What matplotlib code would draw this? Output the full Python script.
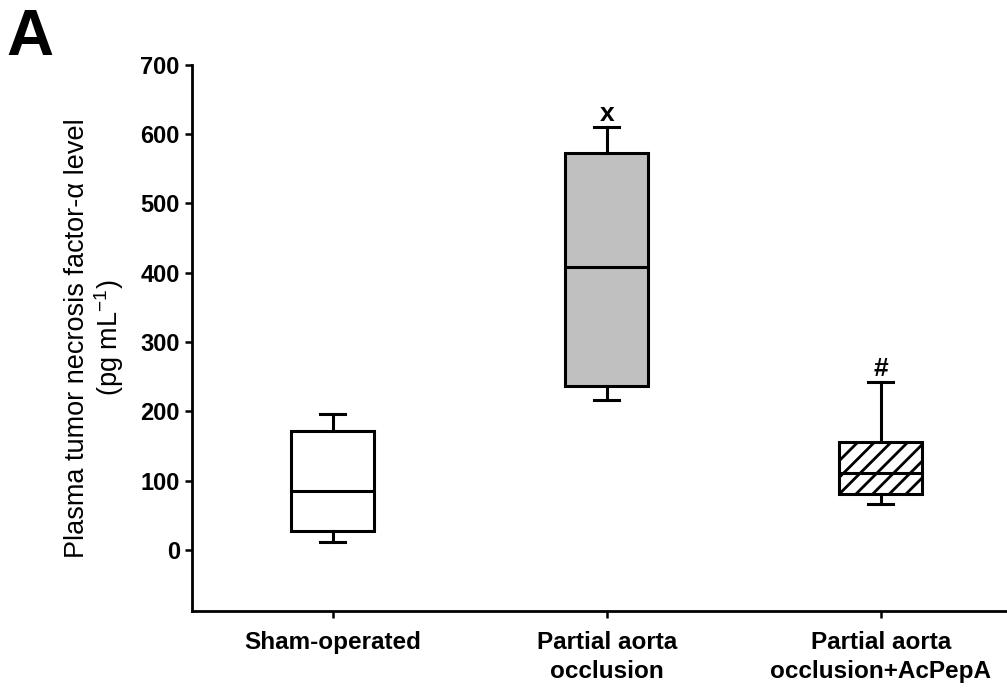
import numpy as np
import matplotlib.pyplot as plt

plt.rcParams['font.family'] = ['Liberation Sans', 'DejaVu Sans']
plt.rcParams['mathtext.default'] = 'regular'
plt.rcParams['hatch.linewidth'] = 2.0

# Datos (pg mL^-1)
grupos = ['Sham-operated', 'Partial aorta\nocclusion', 'Partial aorta\nocclusion+AcPepA']
bigote_inf = [11, 217, 66]
q1 = [27, 237, 81]
mediana = [85, 408, 111]
q3 = [172, 573, 156]
bigote_sup = [197, 610, 242]
rellenos = ['white', '#c0c0c0', 'white']
tramas = [None, None, '//']
marcas = ['', 'x', '#']

stats = []
for i in range(len(grupos)):
    stats.append(dict(whislo=bigote_inf[i], q1=q1[i], med=mediana[i],
                      q3=q3[i], whishi=bigote_sup[i], fliers=[]))

fig = plt.figure(figsize=(10.07, 6.89), dpi=100)
ax = fig.add_axes([0.191, 0.113, 0.809, 0.793])

lw = 2.2
bp = ax.bxp(stats, positions=[1, 2, 3], widths=0.305, patch_artist=True,
            showfliers=False,
            boxprops=dict(linewidth=lw, edgecolor='black'),
            medianprops=dict(color='black', linewidth=lw),
            whiskerprops=dict(color='black', linewidth=lw),
            capprops=dict(color='black', linewidth=lw),
            capwidths=0.09)
for caja, color, trama in zip(bp['boxes'], rellenos, tramas):
    caja.set_facecolor(color)
    if trama:
        caja.set_hatch(trama)

# Marcas de significancia sobre los bigotes
for i, m in enumerate(marcas):
    if m:
        ax.text(i + 1, bigote_sup[i] + 9, m, ha='center', va='baseline',
                fontsize=19, fontweight='bold')

ax.set_xlim(0.488, 3.461)
ax.set_ylim(-88, 700)
ax.set_yticks(np.arange(0, 701, 100))
ax.set_xticks([1, 2, 3])
ax.set_xticklabels(grupos, fontsize=17.5, fontweight='bold', linespacing=1.35)
ax.tick_params(axis='y', labelsize=17, width=1.8, length=5, pad=4, direction='out')
ax.tick_params(axis='x', width=1.8, length=5, direction='out', pad=9)
for lab in ax.get_yticklabels():
    lab.set_fontweight('bold')

ax.spines['top'].set_visible(False)
ax.spines['right'].set_visible(False)
ax.spines['left'].set_linewidth(2)
ax.spines['bottom'].set_linewidth(2)

ax.set_ylabel('Plasma tumor necrosis factor-\u03b1 level\n(pg mL$^{-1}$)', fontsize=19.5,
              labelpad=10, linespacing=1.1)

fig.text(0.006, 0.988, 'A', fontsize=47, fontweight='bold', va='top', ha='left')

plt.savefig('out.png', dpi=100)
